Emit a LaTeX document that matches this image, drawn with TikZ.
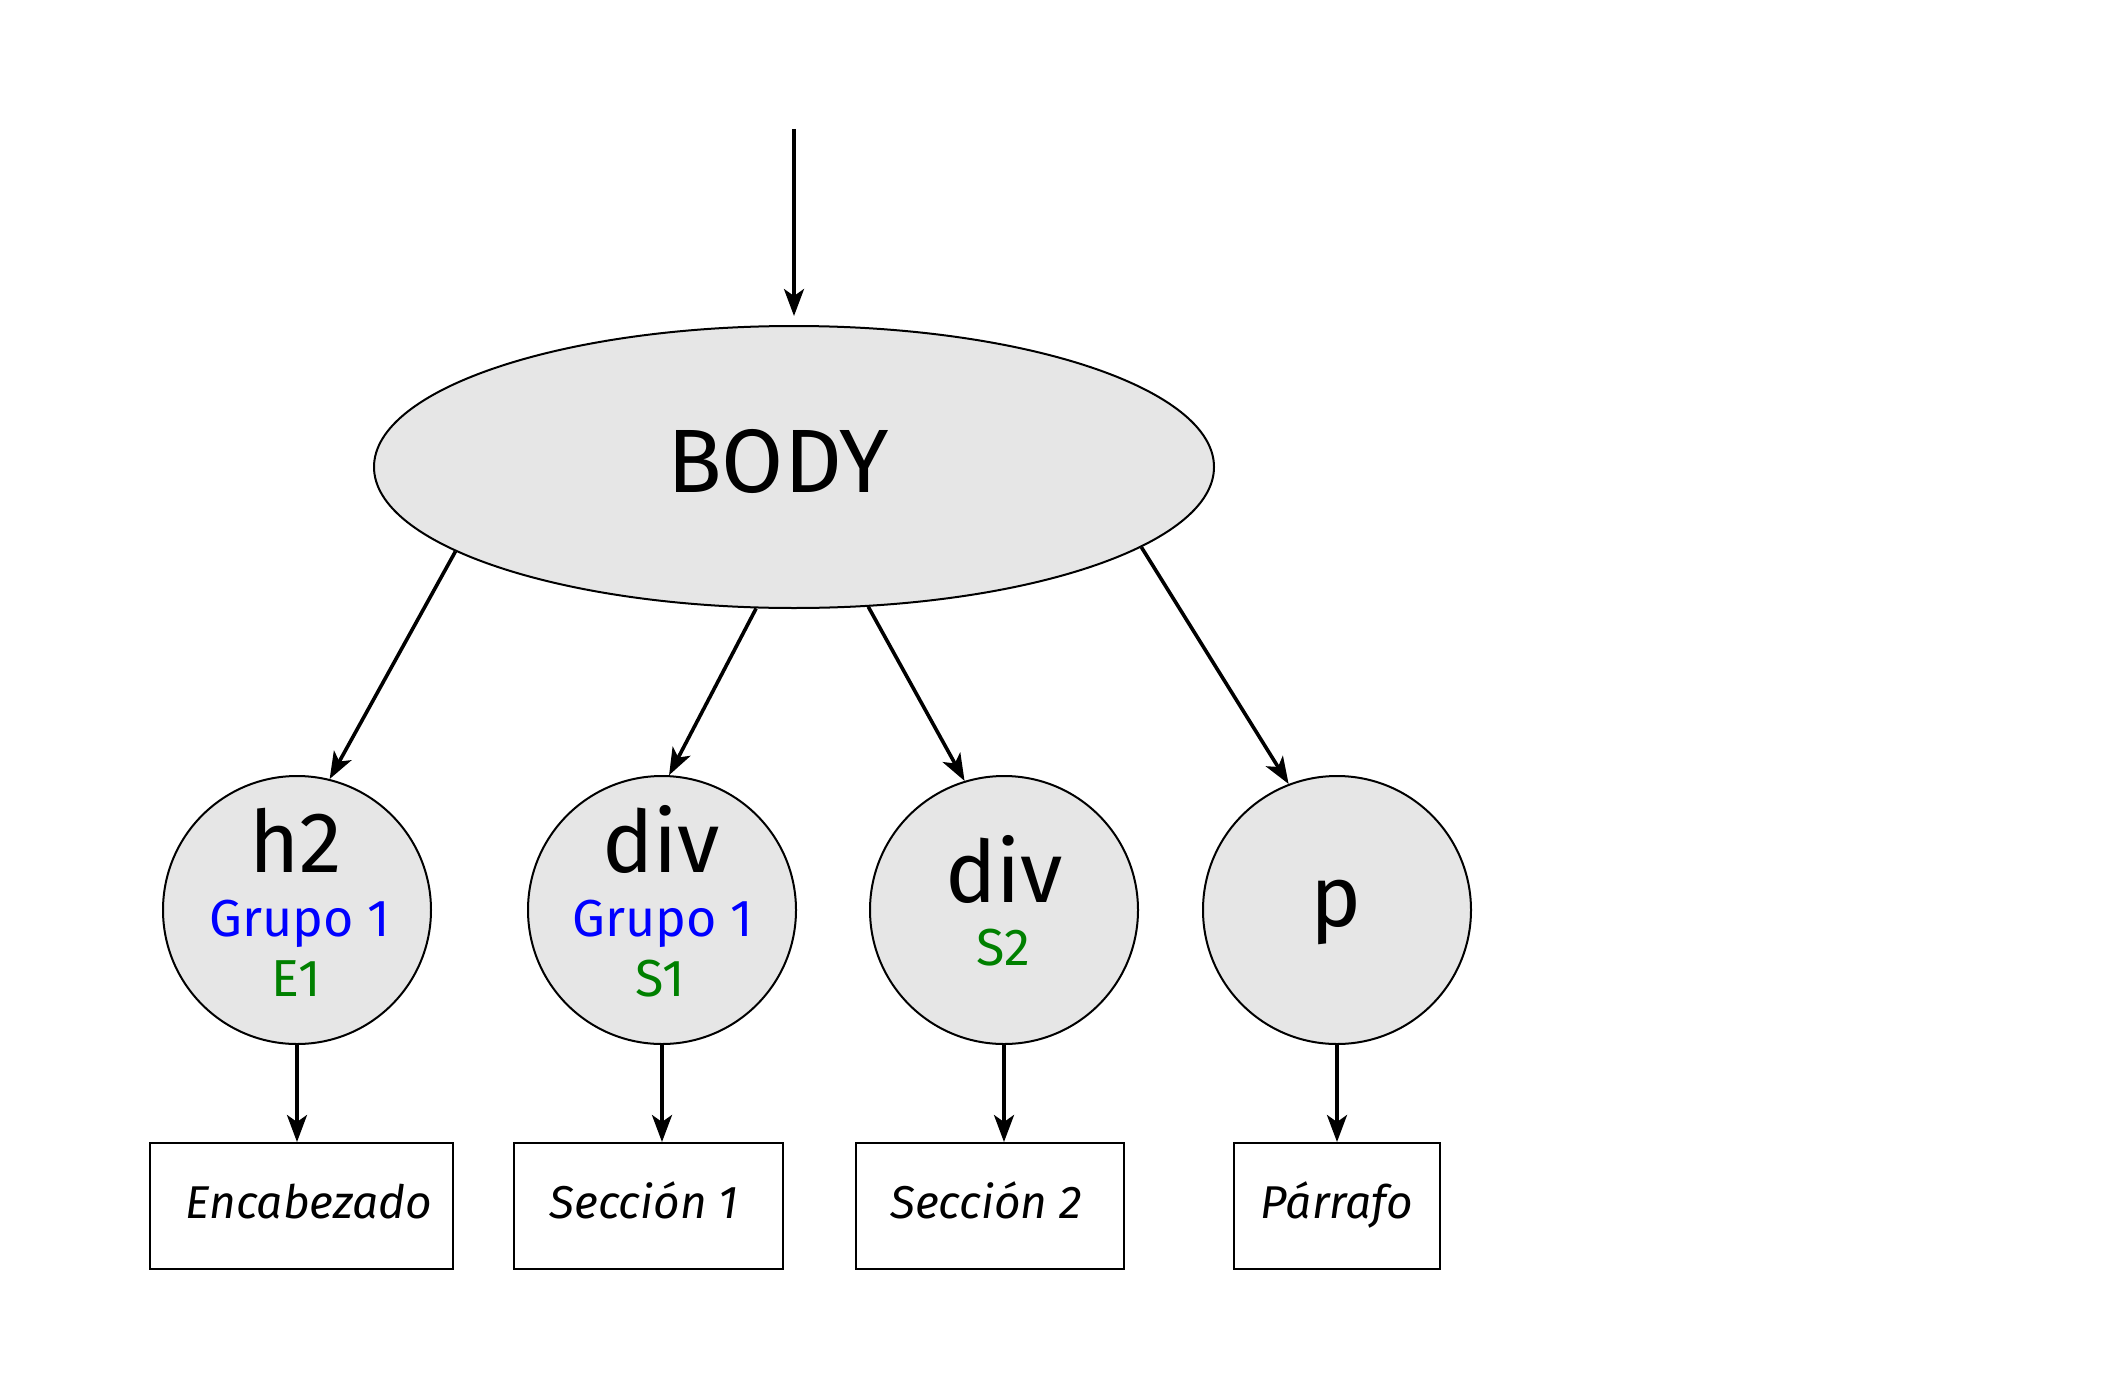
\documentclass[tikz,border=0pt]{standalone}
\usepackage{fontspec}
\setmainfont{Fira Sans}
\usetikzlibrary{shapes.geometric,arrows.meta}
\definecolor{nodegray}{HTML}{E6E6E6}
\definecolor{grpblue}{RGB}{0,0,255}
\definecolor{secgreen}{RGB}{0,128,0}
\begin{document}
\begin{tikzpicture}[x=0.5pt,y=-0.5pt,
  conn/.style={line width=1.8pt,-{Stealth[length=13.5pt,width=10pt,inset=3.5pt]}},
  tagcircle/.style={circle,draw,line width=1pt,fill=nodegray,minimum size=134pt,inner sep=0pt},
  tagtext/.style={anchor=base,inner sep=0pt,font=\fontsize{43}{48}\selectfont},
  grptext/.style={anchor=base,inner sep=0pt,text=grpblue,font=\fontsize{26}{30}\selectfont},
  sectext/.style={anchor=base,inner sep=0pt,text=secgreen,font=\fontsize{26}{30}\selectfont},
  outbox/.style={draw,line width=1pt,inner sep=0pt,minimum height=63pt},
  boxtext/.style={anchor=base,inner sep=0pt,font=\itshape\fontsize{23}{28}\selectfont}
]
\useasboundingbox (0,0) rectangle (2104,1386);
% root
\node[ellipse,draw,line width=1pt,fill=nodegray,minimum width=420pt,minimum height=141pt,inner sep=0pt] (body) at (794,467) {};
\node[tagtext,font=\fontsize{45}{50}\selectfont] (bodytxt) at (778,492) {BODY};
\coordinate (entry) at (794,129);
% circles
\node[tagcircle] (h2) at (297,910) {};
\node[tagcircle] (div1) at (662,910) {};
\node[tagcircle] (div2) at (1004,910) {};
\node[tagcircle] (p) at (1337,910) {};
% circle texts
\node[tagtext] (h2t) at (296,872) {h2};
\node[grptext] (h2g) at (300,936) {Grupo 1};
\node[sectext] (h2s) at (296,996) {E1};
\node[tagtext] (div1t) at (661,872) {div};
\node[grptext] (div1g) at (663,936) {Grupo 1};
\node[sectext] (div1s) at (660,996) {S1};
\node[tagtext] (div2t) at (1004,902) {div};
\node[sectext] (div2s) at (1003,965) {S2};
\node[tagtext] (pt) at (1336,926) {p};
% boxes
\node[outbox,minimum width=151.5pt] (enc) at (301,1206) {};
\node[outbox,minimum width=134.5pt] (sec1) at (648,1206) {};
\node[outbox,minimum width=134pt] (sec2) at (990,1206) {};
\node[outbox,minimum width=103pt] (par) at (1337,1206) {};
\node[boxtext] (enct) at (309,1218) {Encabezado};
\node[boxtext] (sec1t) at (644,1218) {Sección 1};
\node[boxtext] (sec2t) at (986,1218) {Sección 2};
\node[boxtext] (part) at (1337,1218) {Párrafo};
% connectors
\draw[conn,shorten >=4.5pt] (entry) -- (body.north);
\draw[conn] (body.194) -- (h2.76.6);
\draw[conn] (body.255.6) -- (div1.87.4);
\draw[conn] (body.298.8) -- (div2.107.4);
\draw[conn] (body.347.5) -- (p.111.3);
\draw[conn] (h2.south) -- (h2.south |- enc.north);
\draw[conn] (div1.south) -- (div1.south |- sec1.north);
\draw[conn] (div2.south) -- (div2.south |- sec2.north);
\draw[conn] (p.south) -- (p.south |- par.north);
\end{tikzpicture}
\end{document}
